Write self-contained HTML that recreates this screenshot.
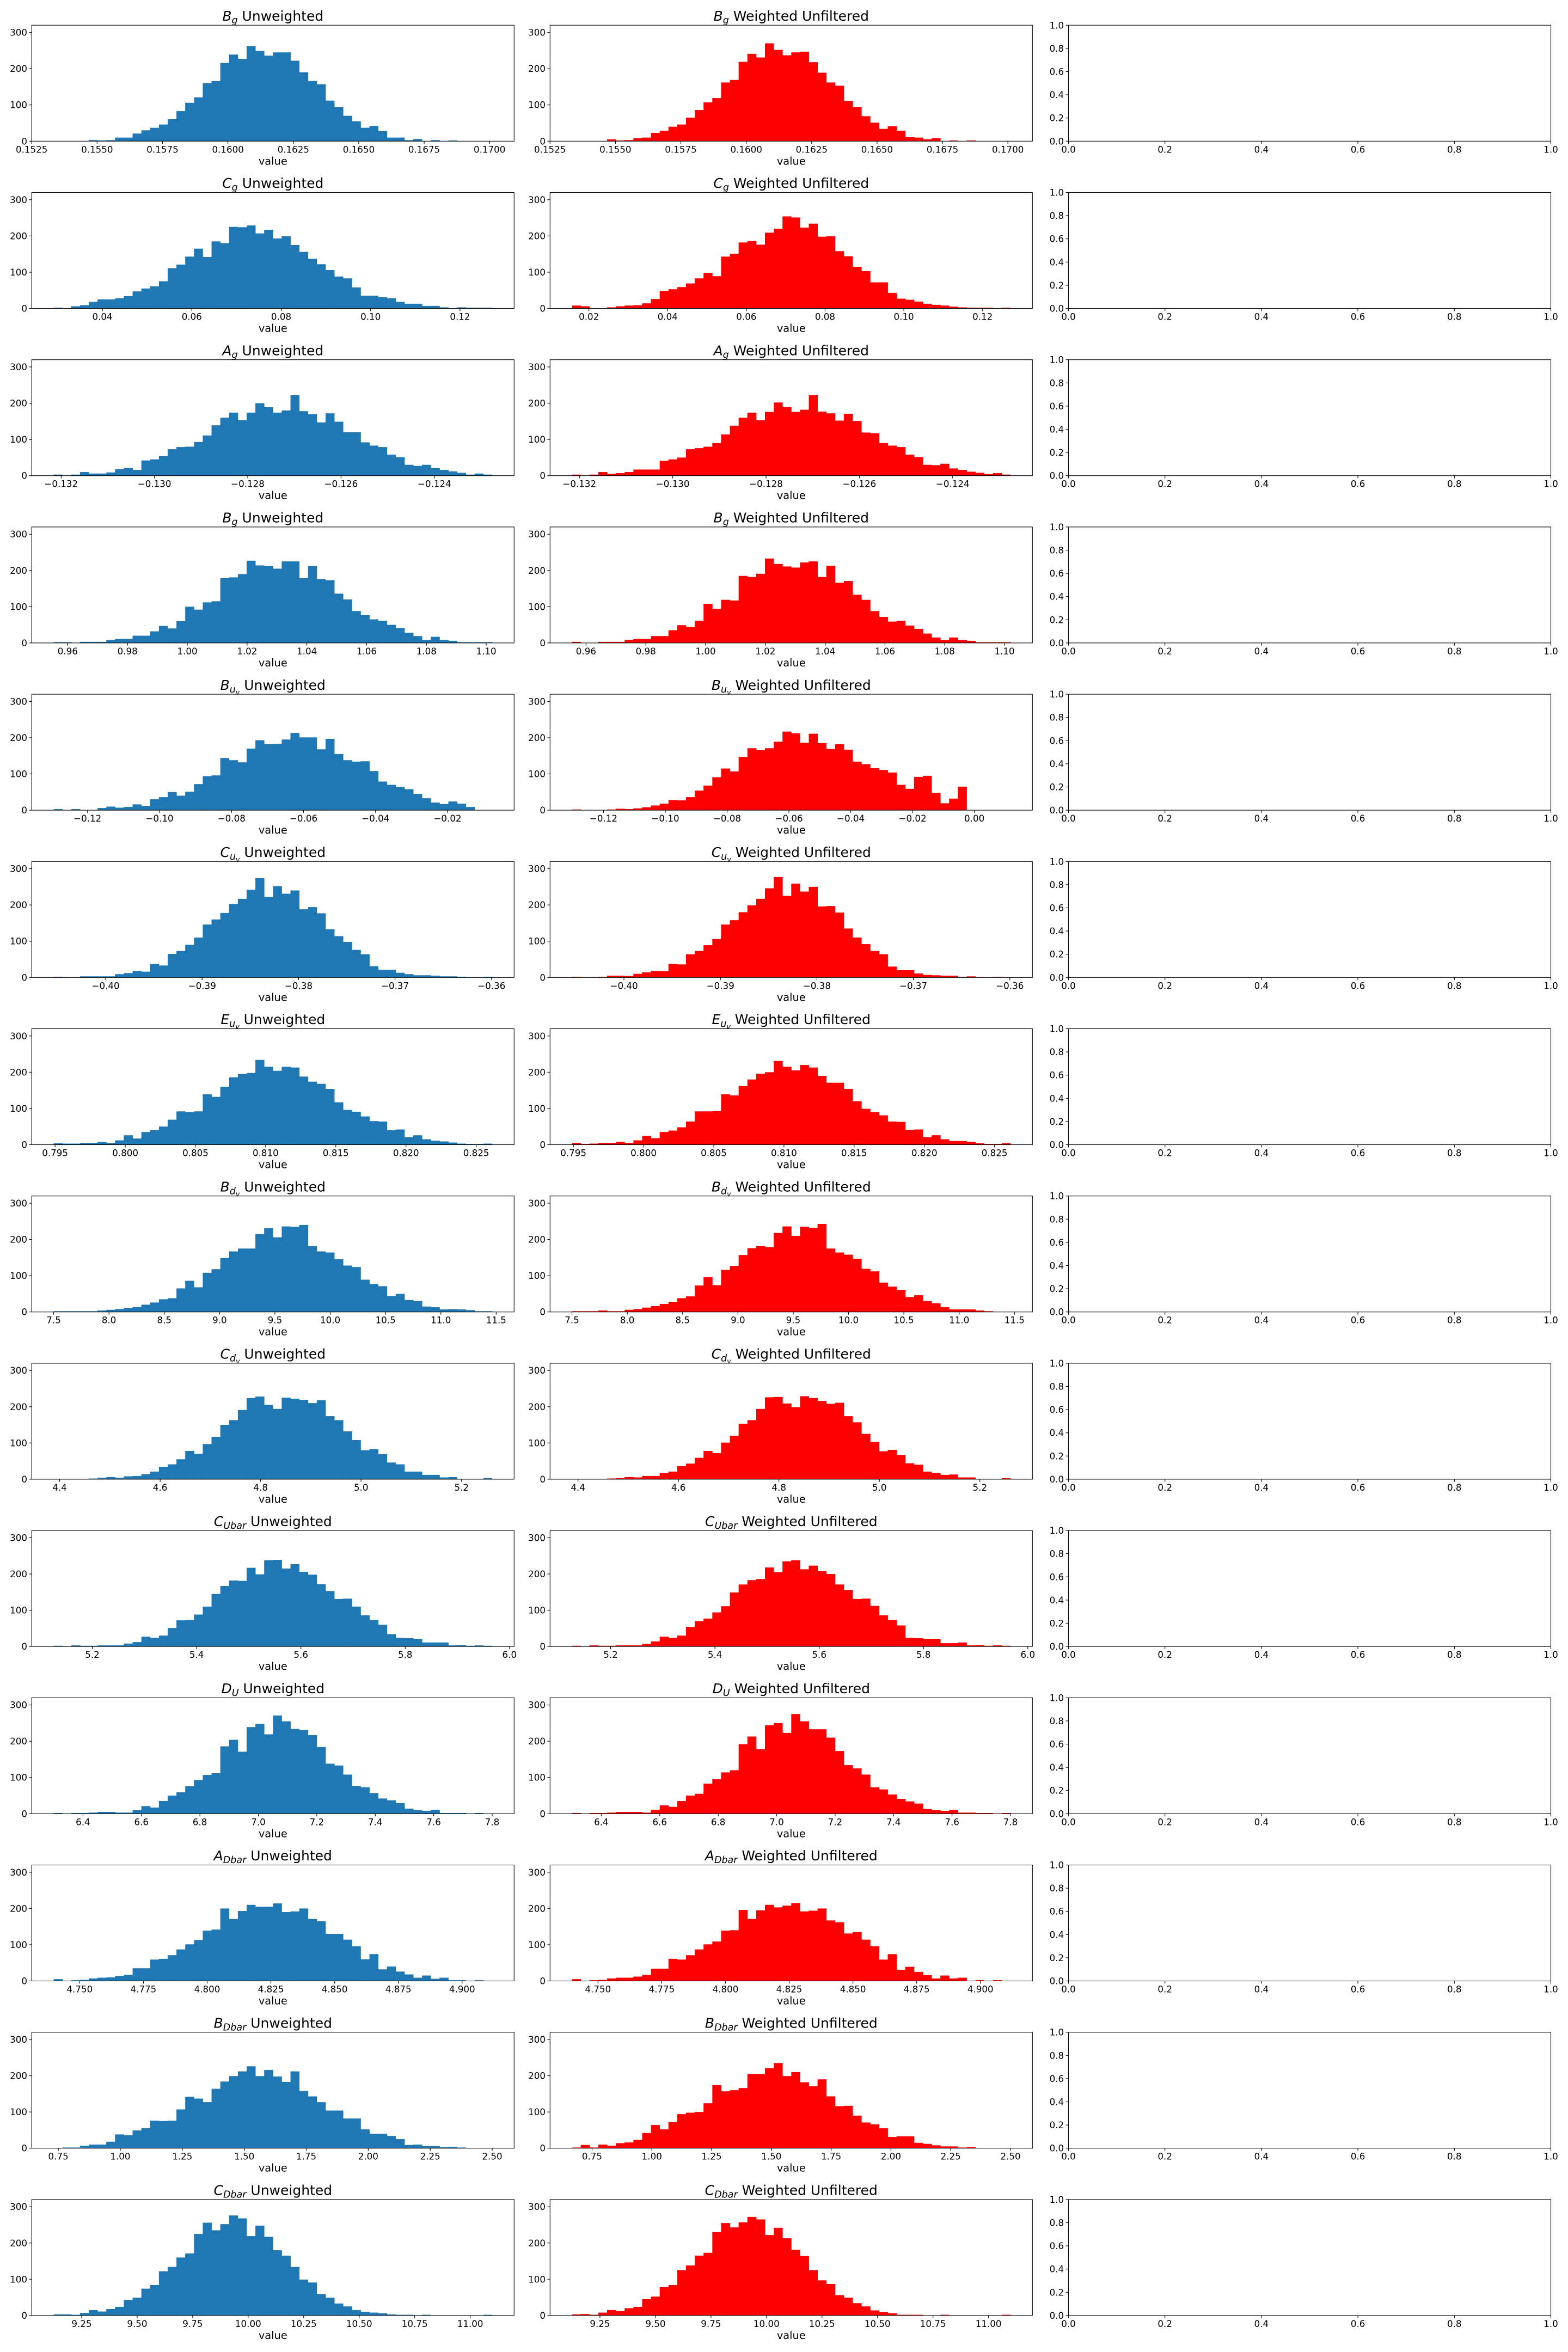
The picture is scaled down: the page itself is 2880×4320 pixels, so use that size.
<!DOCTYPE html>
<html><head><meta charset="utf-8">
<style>
html,body{margin:0;padding:0;background:#fff;}
svg{display:block;}
text{font-family:"DejaVu Sans","Liberation Sans",sans-serif;fill:#000;}
</style></head>
<body>
<svg id="fig" xmlns="http://www.w3.org/2000/svg" width="2880" height="4320" viewBox="0 0 2880 4320"></svg>
<script>
// ---------- data ----------
const nBins = 50;
const yMax = 320;
const yTicks = [0, 100, 200, 300];
const emptyTicks = [0, 0.2, 0.4, 0.6, 0.8, 1.0];
const emptyTickLabels = ["0.0", "0.2", "0.4", "0.6", "0.8", "1.0"];

const titleBase = ["B","C","A","B","B","C","E","B","C","C","D","A","B","C"];
const titleSub = ["g","g","g","g","u_v","u_v","u_v","d_v","d_v","Ubar","U","Dbar","Dbar","Dbar"];

const blueRange = [[0.15334,0.1701],[0.0291,0.1272],[-0.13216,-0.12276],[0.9553,1.102],[-0.1294,-0.0076],[-0.40539,-0.35993],[0.7949,0.82614],[7.5,11.464],[4.388,5.261],[5.1259,5.9668],[6.2997,7.8],[4.7398,4.9118],[0.7312,2.50],[9.124,11.099]];
const redRange = [[0.15334,0.1701],[0.0157,0.1271],[-0.13216,-0.12276],[0.9553,1.102],[-0.1302,0.0117],[-0.40539,-0.35993],[0.7949,0.82614],[7.5,11.464],[4.388,5.261],[5.1259,5.9668],[6.2997,7.8],[4.7398,4.9118],[0.666,2.50],[9.124,11.099]];

const ticks1 = [0.1525,0.155,0.1575,0.16,0.1625,0.165,0.1675,0.17];
const labels1 = ["0.1525","0.1550","0.1575","0.1600","0.1625","0.1650","0.1675","0.1700"];
const ticks2b = [0.04,0.06,0.08,0.10,0.12];
const labels2b = ["0.04","0.06","0.08","0.10","0.12"];
const ticks2r = [0.02,0.04,0.06,0.08,0.10,0.12];
const labels2r = ["0.02","0.04","0.06","0.08","0.10","0.12"];
const ticks3 = [-0.132,-0.130,-0.128,-0.126,-0.124];
const labels3 = ["\u22120.132","\u22120.130","\u22120.128","\u22120.126","\u22120.124"];
const ticks4 = [0.96,0.98,1.00,1.02,1.04,1.06,1.08,1.10];
const labels4 = ["0.96","0.98","1.00","1.02","1.04","1.06","1.08","1.10"];
const ticks5b = [-0.12,-0.10,-0.08,-0.06,-0.04,-0.02];
const labels5b = ["\u22120.12","\u22120.10","\u22120.08","\u22120.06","\u22120.04","\u22120.02"];
const ticks5r = [-0.12,-0.10,-0.08,-0.06,-0.04,-0.02,0.00];
const labels5r = ["\u22120.12","\u22120.10","\u22120.08","\u22120.06","\u22120.04","\u22120.02","0.00"];
const ticks6 = [-0.40,-0.39,-0.38,-0.37,-0.36];
const labels6 = ["\u22120.40","\u22120.39","\u22120.38","\u22120.37","\u22120.36"];
const ticks7 = [0.795,0.800,0.805,0.810,0.815,0.820,0.825];
const labels7 = ["0.795","0.800","0.805","0.810","0.815","0.820","0.825"];
const ticks8 = [7.5,8.0,8.5,9.0,9.5,10.0,10.5,11.0,11.5];
const labels8 = ["7.5","8.0","8.5","9.0","9.5","10.0","10.5","11.0","11.5"];
const ticks9 = [4.4,4.6,4.8,5.0,5.2];
const labels9 = ["4.4","4.6","4.8","5.0","5.2"];
const ticks10 = [5.2,5.4,5.6,5.8,6.0];
const labels10 = ["5.2","5.4","5.6","5.8","6.0"];
const ticks11 = [6.4,6.6,6.8,7.0,7.2,7.4,7.6,7.8];
const labels11 = ["6.4","6.6","6.8","7.0","7.2","7.4","7.6","7.8"];
const ticks12 = [4.750,4.775,4.800,4.825,4.850,4.875,4.900];
const labels12 = ["4.750","4.775","4.800","4.825","4.850","4.875","4.900"];
const ticks13 = [0.75,1.00,1.25,1.50,1.75,2.00,2.25,2.50];
const labels13 = ["0.75","1.00","1.25","1.50","1.75","2.00","2.25","2.50"];
const ticks14 = [9.25,9.50,9.75,10.00,10.25,10.50,10.75,11.00];
const labels14 = ["9.25","9.50","9.75","10.00","10.25","10.50","10.75","11.00"];

const countsBgU = [0,0,0,0,3,2,3,10,10,21,30,37,46,61,83,106,121,160,166,216,239,227,262,249,236,245,245,222,190,166,157,112,94,70,55,37,42,28,10,10,3,6,0,3,0,2,0,0,0,0];
const countsBgW = [0,0,0,0,5,2,3,8,10,23,29,40,46,65,86,107,119,162,169,219,241,231,270,252,237,245,247,218,189,162,153,111,94,69,51,34,41,29,11,10,5,8,0,2,0,2,0,0,0,0];
const countsCgU = [2,0,6,9,18,25,25,28,34,47,55,61,75,111,121,143,165,142,185,180,225,224,229,207,217,193,199,175,156,137,122,106,88,83,58,35,35,31,28,18,13,13,7,7,3,0,3,2,2,2];
const countsCgW = [8,6,0,0,3,6,8,9,14,26,48,53,59,69,83,98,89,143,151,182,186,176,209,220,254,251,223,234,198,199,158,144,115,103,72,72,43,27,24,19,13,10,8,5,3,2,2,2,0,2];
const countsAgU = [3,0,3,10,6,6,9,18,21,16,42,45,54,73,79,80,93,111,139,160,174,153,174,200,189,174,180,222,178,170,147,172,149,120,120,92,83,79,58,51,30,27,30,21,16,12,8,3,6,3];
const countsAgW = [3,0,3,10,5,7,10,17,17,17,41,45,50,73,76,80,90,114,138,160,174,153,176,202,189,176,182,222,177,172,152,171,151,119,117,90,83,79,58,51,30,29,33,20,16,11,8,4,7,3];
const countsBg2U = [2,2,0,3,3,3,8,11,11,20,20,32,47,40,60,100,92,112,115,179,181,190,227,214,212,205,225,225,179,212,176,173,136,120,88,77,65,61,50,41,28,19,8,17,8,6,2,2,2,2];
const countsBg2W = [3,0,0,3,3,3,8,11,11,19,19,35,49,44,61,108,94,119,117,185,182,191,233,218,211,208,222,225,182,213,166,171,133,119,88,72,59,61,48,39,26,15,8,15,8,6,2,2,2,2];
const countsBuvU = [3,0,3,0,0,6,10,7,9,16,12,30,36,50,40,51,72,94,96,144,138,132,170,193,182,183,195,213,201,201,168,197,155,138,134,135,108,79,70,64,58,45,33,21,17,24,18,9,0,0];
const countsBuvW = [2,0,0,0,2,4,3,5,8,13,18,28,27,36,54,68,91,115,107,147,171,166,171,189,217,212,186,211,185,169,182,167,134,127,116,111,104,70,59,92,95,48,19,32,65,0,0,0,0,0];
const countsCuvU = [2,0,0,3,3,3,3,9,12,18,16,37,33,65,73,90,110,146,160,178,203,217,242,274,222,252,231,240,188,194,177,133,114,98,76,64,31,21,21,13,9,6,6,5,3,3,2,0,0,2];
const countsCuvW = [2,0,0,2,5,5,4,10,14,18,17,37,36,64,73,89,106,146,158,180,199,217,246,277,225,259,237,250,196,197,179,135,110,92,73,64,30,20,20,11,7,6,5,5,2,3,1,0,2,0];
const countsEuvU = [4,3,3,5,5,8,5,12,26,17,35,40,50,69,92,90,92,139,132,160,186,195,198,234,215,204,215,213,188,174,168,154,117,96,91,78,65,64,40,42,21,26,15,11,9,6,3,2,2,3];
const countsEuvW = [5,2,3,5,5,8,5,12,24,18,35,39,48,64,92,92,93,139,136,162,180,196,200,231,215,205,220,213,190,171,171,154,120,99,90,81,64,63,41,42,21,26,15,10,10,8,4,2,2,4];
const countsBdvU = [2,2,2,2,2,4,6,8,11,14,20,26,35,38,65,86,68,108,118,149,167,175,175,215,231,206,236,235,240,182,167,164,146,128,124,89,77,71,44,50,33,30,15,13,7,8,7,5,2,2];
const countsBdvW = [2,2,2,4,2,2,6,8,12,16,22,28,38,43,73,96,74,116,127,157,176,182,179,218,236,210,235,232,243,175,164,158,147,119,112,81,70,61,41,46,30,24,13,7,7,7,4,2,0,0];
const countsCdvU = [0,0,0,0,2,4,6,4,8,9,14,21,34,41,55,78,70,97,117,150,163,191,224,228,205,194,225,222,219,210,218,174,163,132,108,80,83,69,46,41,21,21,12,12,5,6,0,0,0,3];
const countsCdvW = [0,0,0,0,2,3,6,5,9,9,17,21,36,43,59,78,72,101,120,153,163,194,226,227,209,199,229,224,216,208,211,174,157,125,103,77,81,67,44,40,21,17,12,13,5,5,0,0,0,3];
const countsCUbarU = [2,0,3,2,2,3,3,3,8,12,27,24,30,51,72,73,88,110,145,167,182,181,217,199,238,239,215,227,206,198,172,153,131,132,110,86,73,60,34,24,23,21,11,11,11,3,4,2,3,2];
const countsCUbarW = [2,0,3,2,2,3,3,3,7,14,27,24,30,54,70,77,94,111,149,171,183,186,218,205,235,238,213,223,208,200,171,156,131,132,112,86,73,58,24,23,21,21,9,9,11,3,4,2,3,2];
const countsDUU = [2,0,2,2,3,5,5,3,3,10,21,17,35,50,59,76,93,107,112,186,204,171,239,248,219,271,255,234,231,217,184,138,133,108,77,73,57,42,37,29,14,10,8,11,2,2,2,0,2,0];
const countsDUW = [2,0,2,2,3,5,5,5,3,11,23,19,35,50,55,83,95,114,120,192,213,178,244,250,223,275,255,233,233,210,173,134,125,108,73,67,53,41,34,28,13,10,8,11,3,3,2,2,0,2];
const countsADbarU = [5,0,2,3,7,9,10,14,17,35,35,59,61,71,87,101,113,139,142,200,171,193,210,205,205,214,190,192,200,171,165,130,130,114,96,60,74,32,40,26,18,9,15,6,9,2,2,0,2,0];
const countsADbarW = [5,0,2,3,7,9,9,12,17,34,34,61,59,71,87,101,109,139,140,196,171,195,210,203,208,215,192,194,200,167,162,131,135,114,96,59,74,31,39,25,16,7,15,7,9,0,2,0,2,0];
const countsBDbarU = [0,2,2,7,10,10,18,38,36,49,55,76,75,76,107,142,137,127,164,184,199,212,226,199,216,198,183,212,158,143,127,104,104,82,82,52,40,40,34,25,9,10,6,6,3,4,2,0,0,0];
const countsBDbarW = [2,9,2,10,7,14,16,23,42,64,52,72,94,98,100,124,174,157,160,166,205,205,221,235,199,210,182,171,190,143,116,117,90,71,66,55,31,33,33,15,12,8,5,5,2,3,0,0,0,0];
const countsCDbarU = [3,3,2,7,15,11,18,24,43,49,74,84,122,134,160,171,225,256,235,252,276,268,219,248,217,180,165,134,99,91,59,49,33,25,15,10,8,6,3,2,2,0,2,0,0,0,0,0,0,2];
const countsCDbarW = [3,4,2,8,15,12,20,24,45,52,78,84,125,138,165,173,230,255,243,257,272,265,222,242,213,181,164,125,97,87,56,49,34,25,14,9,6,2,2,2,0,0,2,0,0,0,0,0,0,2];

const blueCounts = [countsBgU,countsCgU,countsAgU,countsBg2U,countsBuvU,countsCuvU,countsEuvU,countsBdvU,countsCdvU,countsCUbarU,countsDUU,countsADbarU,countsBDbarU,countsCDbarU];
const redCounts = [countsBgW,countsCgW,countsAgW,countsBg2W,countsBuvW,countsCuvW,countsEuvW,countsBdvW,countsCdvW,countsCUbarW,countsDUW,countsADbarW,countsBDbarW,countsCDbarW];
const blueTicks = [ticks1,ticks2b,ticks3,ticks4,ticks5b,ticks6,ticks7,ticks8,ticks9,ticks10,ticks11,ticks12,ticks13,ticks14];
const blueTickLabels = [labels1,labels2b,labels3,labels4,labels5b,labels6,labels7,labels8,labels9,labels10,labels11,labels12,labels13,labels14];
const redTicks = [ticks1,ticks2r,ticks3,ticks4,ticks5r,ticks6,ticks7,ticks8,ticks9,ticks10,ticks11,ticks12,ticks13,ticks14];
const redTickLabels = [labels1,labels2r,labels3,labels4,labels5r,labels6,labels7,labels8,labels9,labels10,labels11,labels12,labels13,labels14];

// ---------- layout ----------
const NS = "http://www.w3.org/2000/svg";
const svg = document.getElementById("fig");
const colLeft = [58.3, 1010.3, 1962.5];
const axW = 886, axH = 213;
const rowTop0 = 46.3, rowPitch = 307.2;

function mk(tag, attrs, parent) {
  const el = document.createElementNS(NS, tag);
  for (const k in attrs) el.setAttribute(k, attrs[k]);
  (parent || svg).appendChild(el);
  return el;
}

function drawTitle(g, cx, y, base, sub, suffix) {
  const t = mk("text", {x: cx, y: y, "text-anchor": "middle", "font-size": 25}, g);
  
  
  const b = mk("tspan", {"font-style": "italic"}, t); b.textContent = base;
  let down = 0;
  if (sub.indexOf("_") >= 0) {
    const parts = sub.split("_");
    const s1 = mk("tspan", {"font-style": "italic", "font-size": 17.5, dy: 5}, t); s1.textContent = parts[0];
    const s2 = mk("tspan", {"font-style": "italic", "font-size": 12.5, dy: 4}, t); s2.textContent = parts[1];
    down = 9;
  } else {
    const s1 = mk("tspan", {"font-style": "italic", "font-size": 17.5, dy: 5}, t); s1.textContent = sub;
    down = 5;
  }
  const r = mk("tspan", {dy: -down}, t); r.textContent = " " + suffix;
}

function drawAxes(g, x0, y0, xlim, ticks, tickLabels, yticks, yLabels, ylimTop) {
  const sx = v => x0 + (v - xlim[0]) / (xlim[1] - xlim[0]) * axW;
  const sy = v => y0 + axH - v / ylimTop * axH;
  // frame
  const fr = mk("rect", {x: x0, y: y0, width: axW, height: axH, fill: "none", stroke: "#000", "stroke-width": 1.1}, g);
  
  
  ticks.forEach((v, i) => {
    const x = sx(v);
    const tl = mk("line", {x1: x, x2: x, y1: y0 + axH, y2: y0 + axH + 4.9, stroke: "#000", "stroke-width": 1.1}, g);
    
    
    const tx = mk("text", {x: x, y: y0 + axH + 21, "text-anchor": "middle", "font-size": 16.7}, g);
    
    
    tx.textContent = tickLabels[i];
  });
  yticks.forEach((v, i) => {
    const y = sy(v);
    const tl = mk("line", {x1: x0 - 4.9, x2: x0, y1: y, y2: y, stroke: "#000", "stroke-width": 1.1}, g);
    
    
    const tx = mk("text", {x: x0 - 8.3, y: y + 6, "text-anchor": "end", "font-size": 16.7}, g);
    
    
    tx.textContent = yLabels[i];
  });
  return {sx, sy};
}

function drawHist(r, c, range, counts, ticks, tickLabels, color, suffix) {
  const x0 = colLeft[c], y0 = rowTop0 + r * rowPitch;
  const g = mk("g", {});
  
  
  const span = range[1] - range[0];
  const xlim = [range[0] - 0.05 * span, range[1] + 0.05 * span];
  const sx = v => x0 + (v - xlim[0]) / (xlim[1] - xlim[0]) * axW;
  const sy = v => y0 + axH - v / yMax * axH;
  const bw = span / nBins;
  counts.forEach((n, i) => {
    if (n <= 0) return;
    const a = sx(range[0] + i * bw), b = sx(range[0] + (i + 1) * bw);
    const bar = mk("rect", {x: a, y: sy(n), width: b - a + 0.4, height: sy(0) - sy(n), fill: color}, g);
    
    
  });
  drawAxes(g, x0, y0, xlim, ticks, tickLabels, yTicks, yTicks.map(String), yMax);
  drawTitle(g, x0 + axW / 2, y0 - 8.3, titleBase[r], titleSub[r], suffix);
  const xl = mk("text", {x: x0 + axW / 2, y: y0 + axH + 43, "text-anchor": "middle", "font-size": 19.4}, g);
  
  
  xl.textContent = "value";
}

for (let r = 0; r < 14; r++) {
  drawHist(r, 0, blueRange[r], blueCounts[r], blueTicks[r], blueTickLabels[r], "#1f77b4", "Unweighted");
  drawHist(r, 1, redRange[r], redCounts[r], redTicks[r], redTickLabels[r], "#ff0000", "Weighted Unfiltered");
  const g = mk("g", {});
  
  
  drawAxes(g, colLeft[2], rowTop0 + r * rowPitch, [0, 1], emptyTicks, emptyTickLabels, emptyTicks, emptyTickLabels, 1);
}
</script>
</body></html>
